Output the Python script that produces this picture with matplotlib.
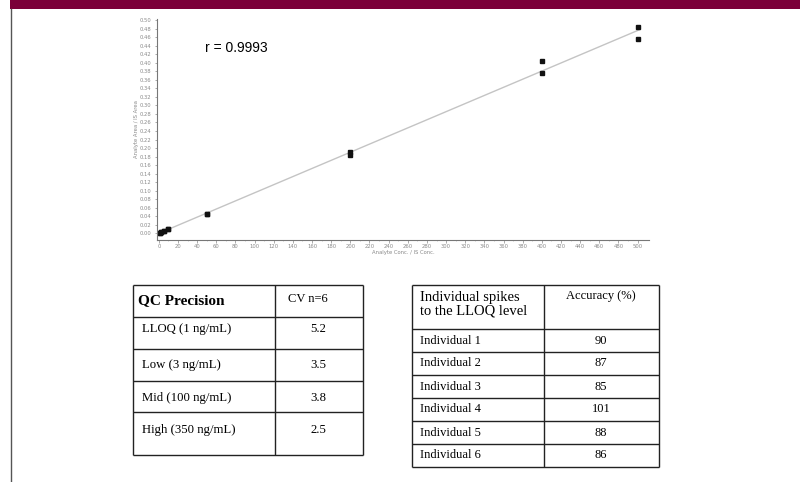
import matplotlib
matplotlib.use("Agg")
import matplotlib.pyplot as plt
import numpy as np

# calibration standards
conc = [1, 1, 2, 2, 5, 5, 10, 10, 50, 50, 200, 200, 400, 400, 500, 500]
ratio = [0.0010, 0.0012, 0.0019, 0.0021, 0.0048, 0.0050, 0.0095, 0.0098,
         0.046, 0.045, 0.190, 0.183, 0.404, 0.376, 0.484, 0.456]
r_text = "r = 0.9993"

# QC precision table
qc_header = ["QC Precision", "CV n=6"]
qc_levels = ["LLOQ (1 ng/mL)", "Low (3 ng/mL)", "Mid (100 ng/mL)", "High (350 ng/mL)"]
qc_cv = ["5.2", "3.5", "3.8", "2.5"]

# LLOQ spike table
acc_header = ["Individual spikes\nto the LLOQ level", "Accuracy (%)"]
individuals = ["Individual 1", "Individual 2", "Individual 3",
               "Individual 4", "Individual 5", "Individual 6"]
accuracy = ["90", "87", "85", "101", "88", "86"]

W, H = 800, 482
fig = plt.figure(figsize=(W / 100, H / 100), dpi=100)
fig.patch.set_facecolor("white")

# overlay in pixel coordinates for banner, frame line and tables
ov = fig.add_axes([0, 0, 1, 1])
ov.set_xlim(0, W)
ov.set_ylim(H, 0)
ov.axis("off")
ov.add_patch(plt.Rectangle((10, 0), W - 10, 9, color="#7b0039", lw=0))
ov.plot([11, 11], [9, H], color="#555555", lw=1)

serif = "Liberation Serif"
lc = "#222222"


def draw_table(x0, xm, x1, rows_y, lw=1.0):
    for y in rows_y:
        ov.plot([x0, x1], [y, y], color=lc, lw=lw, solid_capstyle="butt")
    for x in (x0, xm, x1):
        ov.plot([x, x], [rows_y[0], rows_y[-1]], color=lc, lw=lw, solid_capstyle="butt")


# table 1
t1_rows = [285, 317, 349, 381, 412, 455]
draw_table(133, 275, 363, t1_rows)
ov.text(138, 301, qc_header[0], fontsize=11, fontweight="bold", family=serif,
        va="center", ha="left", color="black")
ov.text(308, 299, qc_header[1], fontsize=9, family=serif, va="center", ha="center")
t1_text_y = [329, 365, 398, 430]
for i, (lab, cv) in enumerate(zip(qc_levels, qc_cv)):
    ov.text(142, t1_text_y[i], lab, fontsize=9.2, family=serif, va="center", ha="left")
    ov.text(318, t1_text_y[i], cv, fontsize=9.2, family=serif, va="center", ha="center")

# table 2
t2_rows = [285, 329, 352, 375, 398, 421, 444, 467]
draw_table(412, 544, 659, t2_rows)
ov.text(420, 304, acc_header[0], fontsize=10.5, family=serif, va="center", ha="left",
        linespacing=1.05)
ov.text(601, 296, acc_header[1], fontsize=9, family=serif, va="center", ha="center")
for i, (lab, a) in enumerate(zip(individuals, accuracy)):
    yc = (t2_rows[i + 1] + t2_rows[i + 2]) / 2
    ov.text(420, yc, lab, fontsize=9, family=serif, va="center", ha="left")
    ov.text(601, yc, a, fontsize=9, family=serif, va="center", ha="center")

# calibration plot
ax = fig.add_axes([157 / W, (H - 240) / H, 492 / W, 221 / H])
ax.set_xlim(-2, 512)
ax.set_ylim(-0.016, 0.503)
ax.patch.set_alpha(0)
for s in ("top", "right"):
    ax.spines[s].set_visible(False)
for s in ("left", "bottom"):
    ax.spines[s].set_color("#777777")
    ax.spines[s].set_linewidth(0.8)

slope, icpt = np.polyfit(conc, ratio, 1)
xl = np.array([0, 502])
ax.plot(xl, slope * xl + icpt, color="#c4c4c4", lw=1.0, zorder=1)
ax.plot(conc, ratio, "s", color="#111111", ms=2.2, zorder=2)

ax.set_xticks(np.arange(0, 501, 20))
ax.set_xticks(np.arange(0, 501, 10), minor=True)
ax.set_yticks(np.arange(0, 0.501, 0.02))
ax.set_yticklabels([f"{v:.2f}" for v in np.arange(0, 0.501, 0.02)])
ax.tick_params(axis="both", which="major", labelsize=3.8, labelcolor="#8a8a8a",
               color="#888888", length=1.8, width=0.5, pad=1)
ax.tick_params(axis="both", which="minor", color="#aaaaaa", length=1.0, width=0.4)
ax.tick_params(axis="y", pad=2)

ax.set_xlabel("Analyte Conc. / IS Conc.", fontsize=3.8, color="#888888", labelpad=0.5)
ax.set_ylabel("Analyte Area / IS Area", fontsize=3.8, color="#888888", labelpad=1)

ax.text(48, 0.435, r_text, fontsize=10, family="Liberation Sans", color="black",
        va="center", ha="left")

fig.savefig("out.png", dpi=100)
